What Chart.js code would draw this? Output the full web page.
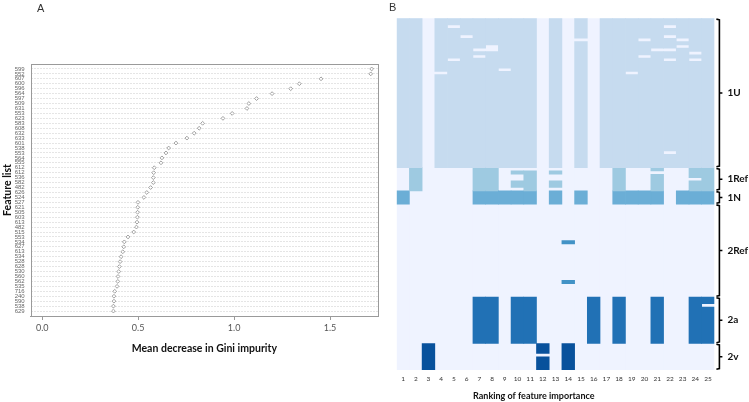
<!DOCTYPE html>
<html><head><meta charset="utf-8">
<script src="https://cdn.jsdelivr.net/npm/chart.js@4.4.0/dist/chart.umd.min.js"></script>
<style>
html,body{margin:0;padding:0;background:#fff;width:749px;height:402px;overflow:hidden;}
#ca{position:absolute;left:0;top:0;}
#cb{position:absolute;left:385px;top:0;}
.pl{position:absolute;font:11px "Liberation Sans",Arial,sans-serif;color:#333;line-height:12px;}
</style></head><body>
<canvas id="ca" width="385" height="402"></canvas>
<canvas id="cb" width="364" height="402"></canvas>
<div class="pl" style="left:37px;top:2px">A</div>
<div class="pl" style="left:389px;top:1px">B</div>
<script>
// ---------- Panel A data ----------
const featureLabels = ['599','552','607','600','596','564','597','509','631','553',
  '623','583','608','632','633','601','538','553','564','555',
  '612','612','536','582','482','626','524','527','621','505',
  '603','613','482','515','553','534','627','613','534','528',
  '628','530','560','562','535','716','240','590','538','629'];
const giniValues = [1.717,1.712,1.453,1.340,1.295,1.198,1.117,1.077,1.067,0.990,
  0.942,0.836,0.818,0.792,0.754,0.697,0.659,0.645,0.624,0.619,
  0.584,0.581,0.579,0.579,0.565,0.545,0.530,0.499,0.498,0.497,
  0.496,0.494,0.491,0.477,0.447,0.428,0.425,0.420,0.411,0.406,
  0.402,0.399,0.395,0.394,0.390,0.378,0.374,0.374,0.371,0.371];
const xTickValues = [0, 0.5, 1.0, 1.5];

// ---------- Panel B data ----------
const rankLabels = ['1','2','3','4','5','6','7','8','9','10','11','12','13','14','15','16','17','18','19','20','21','22','23','24','25'];
const groupNames = ['1U','1Ref','1N','2Ref','2a','2v'];
const groupColors = ['#c6dbef','#9ecae1','#6baed6','#4292c6','#2171b5','#08519c'];
const emptyColor = '#eff3ff';
const rows1U = [
 '11011 11111 10101 01111 11111','11011 11111 10101 01111 11111','11010 11111 10101 01111 10111',
 '11011 11111 10101 01111 11111','11011 11111 10101 01111 11111','11011 01111 10101 01111 10111',
 '11011 11111 10100 01110 11011','11011 11111 10101 01111 11111','11011 11011 10101 01111 11011',
 '11011 10011 10101 01111 00111','11011 11111 10101 01111 11101','11011 10111 10101 01110 11111',
 '11010 11111 10101 01111 10101','11011 11111 10101 01111 11111','11011 11111 10101 01111 11111',
 '11011 11101 10101 01111 11111','11001 11111 10101 01101 11111','11011 11111 10101 01111 11111',
 '11011 11111 10101 01111 11111','11011 11111 10101 01111 11111','11011 11111 10101 01111 11111',
 '11011 11111 10101 01111 11111','11011 11111 10101 01111 11111','11011 11111 10101 01111 11111',
 '11011 11111 10101 01111 11111','11011 11111 10101 01111 11111','11011 11111 10101 01111 11111',
 '11011 11111 10101 01111 11111','11011 11111 10101 01111 11111','11011 11111 10101 01111 11111',
 '11011 11111 10101 01111 11111','11011 11111 10101 01111 11111','11011 11111 10101 01111 11111',
 '11011 11111 10101 01111 11111','11011 11111 10101 01111 11111','11011 11111 10101 01111 11111',
 '11011 11111 10101 01111 11111','11011 11111 10101 01111 11111','11011 11111 10101 01111 11111',
 '11011 11111 10101 01111 11111','11011 11111 10101 01111 10111','11011 11111 10101 01111 11111',
 '11011 11111 10101 01111 11111','11011 11111 10101 01111 11111','11011 11111 10101 01111 11111'];
const rows1Ref = [
 '01000 01100 00000 00100 10011','01000 01101 10100 00100 00011','01000 01100 10000 00100 10011',
 '01000 01100 10000 00100 10001','01000 01101 10100 00100 10011','01000 01101 10100 00100 10011',
 '01000 01100 10000 00100 10011'];
const rows1N = [
 '10000 01111 10101 00111 10111','10000 01111 10101 00111 10111',
 '10000 01111 10101 00111 10111','10000 01111 10101 00111 10111'];
const rows2Ref = [
 '00000 00000 00000 00000 00000','00000 00000 00000 00000 00000','00000 00000 00000 00000 00000',
 '00000 00000 00000 00000 00000','00000 00000 00000 00000 00000','00000 00000 00000 00000 00000',
 '00000 00000 00000 00000 00000','00000 00000 00000 00000 00000','00000 00000 00000 00000 00000',
 '00000 00000 00000 00000 00000','00000 00000 00000 00000 00000','00000 00000 00010 00000 00000',
 '00000 00000 00000 00000 00000','00000 00000 00000 00000 00000','00000 00000 00000 00000 00000',
 '00000 00000 00000 00000 00000','00000 00000 00000 00000 00000','00000 00000 00000 00000 00000',
 '00000 00000 00000 00000 00000','00000 00000 00000 00000 00000','00000 00000 00000 00000 00000',
 '00000 00000 00000 00000 00000','00000 00000 00000 00000 00000','00000 00000 00010 00000 00000',
 '00000 00000 00000 00000 00000','00000 00000 00000 00000 00000','00000 00000 00000 00000 00000',
 '00000 00000 00000 00000 00000'];
const rows2a = [
 '00000 01101 10000 10100 10011','00000 01101 10000 10100 10011','00000 01101 10000 10100 10010',
 '00000 01101 10000 10100 10011','00000 01101 10000 10100 10011','00000 01101 10000 10100 10011',
 '00000 01101 10000 10100 10011','00000 01101 10000 10100 10011','00000 01101 10000 10100 10011',
 '00000 01101 10000 10100 10011','00000 01101 10000 10100 10011','00000 01101 10000 10100 10011',
 '00000 01101 10000 10100 10011','00000 01101 10000 10100 10011'];
const rows2v = [
 '00100 00000 01010 00000 00000','00100 00000 01010 00000 00000','00100 00000 01010 00000 00000',
 '00100 00000 00010 00000 00000','00100 00000 01010 00000 00000','00100 00000 01010 00000 00000',
 '00100 00000 01010 00000 00000','00100 00000 01010 00000 00000'];

Chart.defaults.font.family = 'Lato, "Liberation Sans", sans-serif';
Chart.defaults.animation = false;

// ---------- Panel A ----------
const boxPlugin = {
  id: 'box',
  afterDraw(chart) {
    const a = chart.chartArea, ctx = chart.ctx;
    ctx.save(); ctx.strokeStyle = '#9a9a9a'; ctx.lineWidth = 1;
    ctx.strokeRect(Math.round(a.left) + 0.5, Math.round(a.top) + 0.5, Math.round(a.right - a.left), Math.round(a.bottom - a.top));
    ctx.restore();
  }
};
new Chart(document.getElementById('ca'), {
  type: 'scatter',
  data: { datasets: [{
    data: giniValues.map((v, i) => ({ x: v, y: i })),
    pointStyle: 'rectRot', radius: 1.9, borderColor: '#8a8a8a', borderWidth: 0.8, backgroundColor: '#fff'
  }]},
  options: {
    responsive: false, devicePixelRatio: 1,
    layout: { padding: { top: 64, right: 7, bottom: 47, left: 0 } },
    plugins: { legend: { display: false }, tooltip: { enabled: false } },
    scales: {
      x: {
        type: 'linear', min: -0.06, max: 1.75,
        afterBuildTicks: s => { s.ticks = xTickValues.map(v => ({ value: v })); },
        afterFit: s => { s.height = 39; },
        ticks: { callback: v => Number(v).toFixed(1), font: { size: 9 }, color: '#555', padding: 3, maxRotation: 0 },
        grid: { drawOnChartArea: false, tickLength: 4, color: '#9a9a9a' },
        border: { color: '#9a9a9a' },
        title: { display: true, text: 'Mean decrease in Gini impurity', font: { size: 10.5, weight: 'bold' }, color: '#111', padding: 0 }
      },
      y: {
        type: 'linear', reverse: true, min: -1, max: 50,
        afterBuildTicks: s => { s.ticks = featureLabels.map((l, i) => ({ value: i })); },
        afterFit: s => { s.width = 30.7; },
        ticks: { autoSkip: false, callback: v => featureLabels[v], font: { size: 6, family: '"Liberation Sans", sans-serif' }, color: '#666', padding: 6 },
        grid: { drawTicks: false, color: '#dedede', lineWidth: 0.8 },
        border: { display: false, dash: [2, 1] },
        title: { display: true, text: 'Feature list', font: { size: 10.5, weight: 'bold' }, color: '#111', padding: { top: 1, bottom: 0 } }
      }
    }
  },
  plugins: [boxPlugin]
});

// ---------- Panel B ----------
const groups = [rows1U, rows1Ref, rows1N, rows2Ref, rows2a, rows2v];
const levels = [];
groups.forEach((g, gi) => g.forEach(s => {
  const t = s.replace(/ /g, '');
  levels.push(t.split('').map(ch => ch === '1' ? gi + 1 : 0));
}));
const nRows = levels.length;
const runs = rankLabels.map((_, c) => {
  const out = []; let r = 0;
  while (r < nRows) {
    const lev = levels[r][c];
    if (lev > 0) { const st = r; while (r < nRows && levels[r][c] === lev) r++; out.push({ st, en: r, lev }); }
    else r++;
  }
  return out;
});
const maxRuns = Math.max(...runs.map(r => r.length));
const barCommon = { grouped: false, barPercentage: 1, categoryPercentage: 1, borderWidth: 0 };
const dsB = [Object.assign({ data: rankLabels.map(() => [0, nRows]), backgroundColor: emptyColor, order: 100 }, barCommon)];
for (let k = 0; k < maxRuns; k++) {
  dsB.push(Object.assign({
    data: runs.map(r => r[k] ? [r[k].st, r[k].en] : null),
    backgroundColor: runs.map(r => r[k] ? groupColors[r[k].lev - 1] : 'rgba(0,0,0,0)'),
    order: 1
  }, barCommon));
}
const bracketPlugin = {
  id: 'brackets',
  afterDraw(chart) {
    const ctx = chart.ctx, a = chart.chartArea, y = chart.scales.y;
    const x = a.right + 5;
    ctx.save();
    ctx.strokeStyle = '#000'; ctx.fillStyle = '#000'; ctx.lineWidth = 1.6;
    let start = 0;
    groups.forEach((g, gi) => {
      const y0 = y.getPixelForValue(start), y1 = y.getPixelForValue(start + g.length);
      const ym = (y0 + y1) / 2;
      ctx.beginPath();
      ctx.moveTo(x - 3, y0 + 0.8); ctx.lineTo(x, y0 + 1.5); ctx.lineTo(x, y1 - 1.5); ctx.lineTo(x - 3, y1 - 0.8);
      ctx.moveTo(x, ym); ctx.lineTo(x + 3, ym);
      ctx.stroke();
      ctx.font = 'bold 10px Lato, sans-serif';
      ctx.textAlign = 'left'; ctx.textBaseline = 'middle';
      ctx.fillStyle = '#111';
      ctx.fillText(groupNames[gi], x + 8, ym);
      start += g.length;
    });
    ctx.font = 'bold 9px Lato, sans-serif';
    ctx.textAlign = 'center'; ctx.textBaseline = 'middle';
    ctx.fillText('Ranking of feature importance', a.left + 0.4315 * (a.right - a.left), a.bottom + 25.7);
    ctx.restore();
  }
};
new Chart(document.getElementById('cb'), {
  type: 'bar',
  data: { labels: rankLabels, datasets: dsB },
  options: {
    responsive: false, devicePixelRatio: 1,
    layout: { padding: { top: 18.3, right: 34.6, bottom: 0, left: 11.7 } },
    plugins: { legend: { display: false }, tooltip: { enabled: false } },
    scales: {
      x: {
        type: 'category',
        afterFit: s => { s.height = 32; },
        grid: { display: false, drawTicks: false }, border: { display: false },
        ticks: { autoSkip: false, maxRotation: 0, font: { size: 6.5 }, color: '#333', padding: 5 }
      },
      y: { type: 'linear', min: 0, max: nRows, reverse: true, display: false }
    }
  },
  plugins: [bracketPlugin]
});
</script>
</body></html>
